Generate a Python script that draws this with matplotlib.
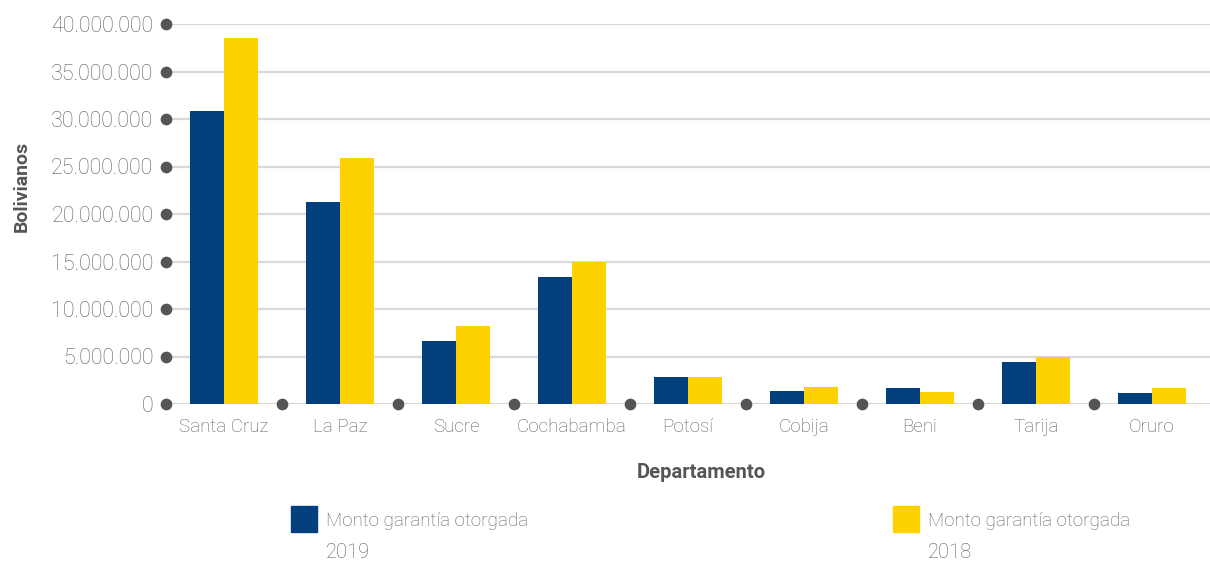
import matplotlib
matplotlib.use('Agg')
import matplotlib.pyplot as plt
import matplotlib.patches as mpatches
import numpy as np

# data (bolivianos)
departamentos = ['Santa Cruz', 'La Paz', 'Sucre', 'Cochabamba', 'Potosí',
                 'Cobija', 'Beni', 'Tarija', 'Oruro']
monto_2019 = [30.8e6, 21.3e6, 6.6e6, 13.4e6, 2.8e6, 1.4e6, 1.7e6, 4.4e6, 1.2e6]
monto_2018 = [38.5e6, 25.9e6, 8.2e6, 15.0e6, 2.8e6, 1.8e6, 1.3e6, 5.0e6, 1.7e6]
y_ticks = [0, 5e6, 10e6, 15e6, 20e6, 25e6, 30e6, 35e6, 40e6]
legend_labels = ['Monto garantía otorgada\n2019', 'Monto garantía otorgada\n2018']

BLUE = '#023f7c'
YELLOW = '#fdd200'
GRID = '#d9d9d9'
DOT = '#555555'
TXT = '#5e5e5e'

plt.rcParams['font.family'] = ['Roboto', 'DejaVu Sans']

W, H = 1210, 563
fig = plt.figure(figsize=(W / 100, H / 100), dpi=100)
ax = fig.add_axes([166 / W, 1 - 404 / H, (W - 166) / W, 380 / H])

x = np.arange(len(departamentos))
bw = 0.29
ax.bar(x - bw / 2, monto_2019, bw, color=BLUE, zorder=3)
ax.bar(x + bw / 2, monto_2018, bw, color=YELLOW, zorder=3)

ax.set_xlim(-0.5, len(departamentos) - 0.5)
ax.set_ylim(0, 40e6)

# gridlines
for t in y_ticks:
    ax.axhline(t, color=GRID, lw=1.6, zorder=1, xmin=0.006)

# dot "ticks" on both axes
ax.scatter(np.full(len(y_ticks), -0.5), y_ticks, s=55, color=DOT,
           clip_on=False, zorder=4)
bounds = np.arange(0.5, len(departamentos) - 1, 1.0)
ax.scatter(bounds, np.zeros(len(bounds)), s=55, color=DOT,
           clip_on=False, zorder=4)

for s in ax.spines.values():
    s.set_visible(False)

ax.set_yticks(y_ticks)
ax.set_yticklabels(['0' if t == 0 else f'{int(t):,}'.replace(',', '.')
                    for t in y_ticks], fontweight='light')
ax.set_xticks(x)
ax.set_xticklabels(departamentos, fontweight='light')
ax.tick_params(axis='y', length=0, pad=9, labelsize=15.5, labelcolor=TXT)
ax.tick_params(axis='x', length=0, pad=10, labelsize=13.5, labelcolor=TXT)

fig.text(701 / W, 1 - 472 / H, 'Departamento', ha='center', va='center',
         fontsize=14.5, fontweight='bold', color='#555555')
fig.text(22 / W, 1 - 186 / H, 'Bolivianos', ha='center', va='center',
         rotation=90, fontsize=14, fontweight='bold', color='#555555')

# legend drawn by hand to mimic the two wide columns
for (px, col, lab) in [(291, BLUE, legend_labels[0]), (893, YELLOW, legend_labels[1])]:
    fig.add_artist(mpatches.Rectangle((px / W, 1 - 532 / H), 26 / W, 26 / H,
                                      transform=fig.transFigure, color=col))
    line1, line2 = lab.split('\n')
    fig.text((px + 35) / W, 1 - 521 / H, line1, ha='left', va='center',
             fontsize=13.5, fontweight='light', color=TXT)
    fig.text((px + 35) / W, 1 - 552 / H, line2, ha='left', va='center',
             fontsize=14.5, fontweight='light', color=TXT)

fig.savefig('out.png', dpi=100, facecolor='white')
